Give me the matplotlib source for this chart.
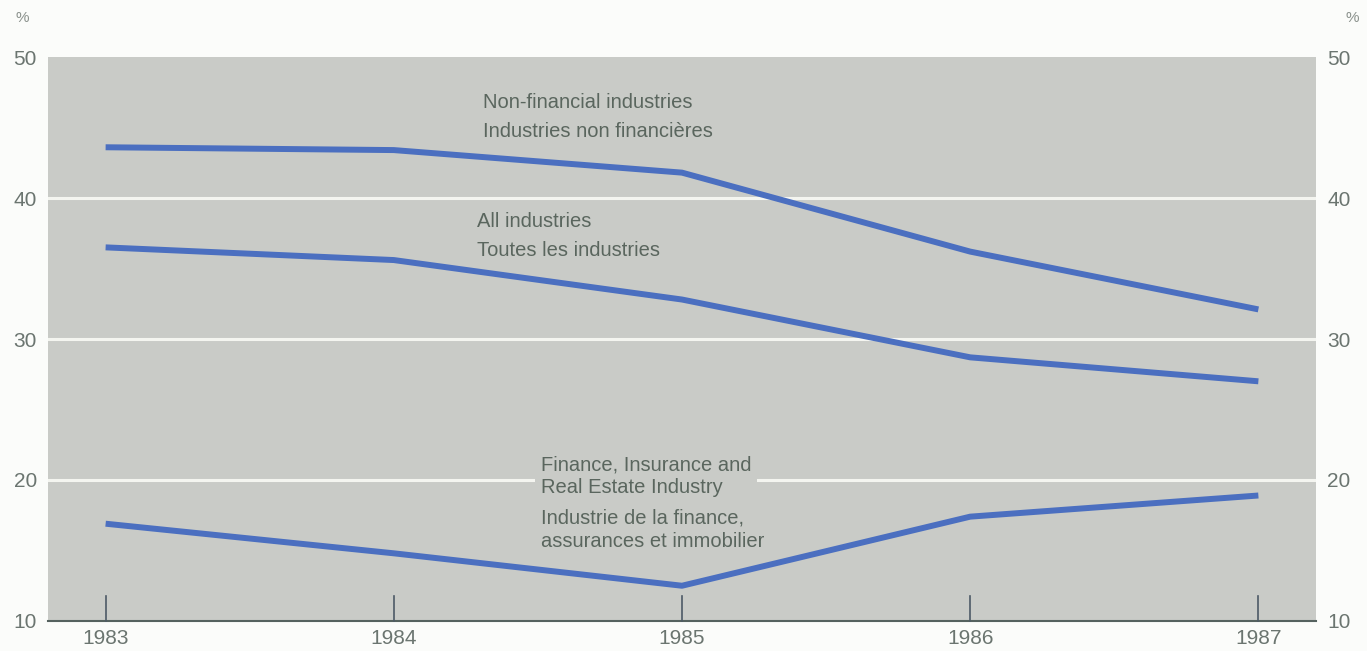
import numpy as np
import matplotlib.pyplot as plt

plt.rcParams['font.family'] = ['Liberation Sans', 'DejaVu Sans']

years = [1983, 1984, 1985, 1986, 1987]
non_financial = [43.6, 43.4, 41.8, 36.2, 32.1]
all_industries = [36.5, 35.6, 32.8, 28.7, 27.0]
finance = [16.9, 14.8, 12.5, 17.4, 18.9]
y_ticks = [10, 20, 30, 40, 50]

bg = '#c9cbc7'
line_col = '#4b6fc0'
txt_col = '#5a665e'

fig = plt.figure(figsize=(13.67, 6.51), dpi=100)
fig.patch.set_facecolor('#fbfcfa')
ax = fig.add_axes([0.0351, 0.0461, 0.9276, 0.8663])
ax.set_facecolor(bg)

for v in [20, 30, 40]:
    ax.axhline(v, color='#f4f5f0', lw=2.2, zorder=1)

for s in [non_financial, all_industries, finance]:
    ax.plot(years, s, color=line_col, lw=4.3, solid_capstyle='butt', zorder=3)

ax.set_xlim(1982.8, 1987.2)
ax.set_ylim(10, 50)
ax.set_xticks(years)
ax.set_xticklabels([str(y) for y in years])
ax.set_yticks(y_ticks)
ax.set_yticklabels([str(v) for v in y_ticks])
ax.tick_params(axis='y', length=0, labelsize=15, labelcolor='#6b7570',
               labelleft=True, labelright=True, pad=8)
ax.tick_params(axis='x', length=0, labelsize=15, labelcolor='#6b7570', pad=6)
for sp in ['top', 'left', 'right']:
    ax.spines[sp].set_visible(False)
ax.spines['bottom'].set_color('#55625f')
ax.spines['bottom'].set_linewidth(1.5)

# small tick marks rising from the baseline
for y in years:
    ax.plot([y, y], [10, 11.8], color='#4d5a66', lw=1.2, zorder=4, clip_on=False)

fs = 14.5
ax.text(1984.31, 46.8, 'Non-financial industries', fontsize=fs, color=txt_col, va='center')
ax.text(1984.31, 44.7, 'Industries non financières', fontsize=fs, color=txt_col, va='center')
ax.text(1984.29, 38.3, 'All industries', fontsize=fs, color=txt_col, va='center')
ax.text(1984.29, 36.25, 'Toutes les industries', fontsize=fs, color=txt_col, va='center')
ax.text(1984.51, 20.28, 'Finance, Insurance and\nReal Estate Industry', fontsize=fs,
        color=txt_col, va='center', linespacing=1.25,
        bbox=dict(facecolor=bg, edgecolor='none', pad=4), zorder=2)
ax.text(1984.51, 16.47, 'Industrie de la finance,\nassurances et immobilier', fontsize=fs,
        color=txt_col, va='center', linespacing=1.25, zorder=2)

fig.text(0.011, 0.972, '%', fontsize=11, color='#8a918c', va='center')
fig.text(0.984, 0.972, '%', fontsize=11, color='#8a918c', va='center')

fig.savefig('out.png', dpi=100, facecolor=fig.get_facecolor())
